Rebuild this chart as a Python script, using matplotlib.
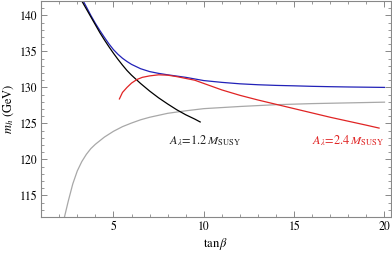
import matplotlib
matplotlib.use('Agg')
import matplotlib.pyplot as plt
from matplotlib.ticker import MultipleLocator

plt.rcParams['font.family'] = 'STIXGeneral'
plt.rcParams['mathtext.fontset'] = 'stix'

# black curve: A_lambda = 1.2 M_SUSY
black_x = [3.25, 3.5, 3.75, 4.0, 4.25, 4.5, 4.75, 5.0, 5.25, 5.5, 5.75, 6.0, 6.5, 7.0, 7.5, 8.0, 8.5, 9.0, 9.5, 9.8]
black_y = [142.0, 140.9, 139.8, 138.7, 137.6, 136.6, 135.65, 134.75, 133.9, 133.1, 132.35, 131.7, 130.55, 129.5, 128.55, 127.7, 126.9, 126.2, 125.6, 125.2]

# blue curve
blue_x = [3.33, 3.5, 3.75, 4.0, 4.25, 4.5, 4.75, 5.0, 5.25, 5.5, 5.75, 6.0, 6.5, 7.0, 7.5, 8.0, 9.0, 10.0, 11.0, 12.0, 13.0, 14.0, 15.0, 16.0, 17.0, 18.0, 19.0, 20.0]
blue_y = [142.0, 141.2, 140.0, 138.9, 137.9, 136.95, 136.05, 135.25, 134.6, 134.05, 133.6, 133.2, 132.6, 132.2, 131.95, 131.75, 131.4, 130.95, 130.7, 130.5, 130.37, 130.28, 130.22, 130.15, 130.1, 130.06, 130.03, 130.0]

# red curve: A_lambda = 2.4 M_SUSY
red_x = [5.33, 5.5, 5.75, 6.0, 6.3, 6.6, 7.0, 7.5, 8.0, 8.5, 9.0, 9.5, 10.0, 11.0, 12.0, 13.0, 14.0, 15.0, 16.0, 17.0, 18.0, 19.0, 19.7]
red_y = [128.4, 129.3, 130.0, 130.6, 131.1, 131.4, 131.6, 131.75, 131.7, 131.5, 131.25, 131.0, 130.55, 129.65, 128.9, 128.25, 127.65, 127.05, 126.45, 125.85, 125.3, 124.75, 124.35]

# gray curve
gray_x = [2.29, 2.5, 2.75, 3.0, 3.25, 3.5, 3.75, 4.0, 4.5, 5.0, 5.5, 6.0, 6.5, 7.0, 8.0, 9.0, 10.0, 12.0, 14.0, 16.0, 18.0, 20.0]
gray_y = [112.0, 114.2, 116.6, 118.4, 119.7, 120.7, 121.5, 122.1, 123.1, 123.9, 124.55, 125.05, 125.5, 125.85, 126.4, 126.75, 127.05, 127.35, 127.6, 127.75, 127.85, 127.95]

fig = plt.figure(figsize=(3.92, 2.58), dpi=100)
ax = fig.add_axes([0.105, 0.159, 0.892, 0.837])

ax.plot(gray_x, gray_y, color='#a8a8a8', lw=0.9)
ax.plot(blue_x, blue_y, color='#2222b8', lw=0.9)
ax.plot(black_x, black_y, color='black', lw=0.9)
ax.plot(red_x, red_y, color='#e02424', lw=0.9)

ax.text(10.07, 122.6, r'$A_\lambda\!=\!1.2\,M_{\mathrm{SUSY}}$', fontsize=8.8, ha='center', va='center', color='#222222')
ax.text(18.0, 122.6, r'$A_\lambda\!=\!2.4\,M_{\mathrm{SUSY}}$', fontsize=8.8, ha='center', va='center', color='#e02424')

ax.set_xlim(1, 20.35)
ax.set_ylim(112, 142)
ax.xaxis.set_major_locator(MultipleLocator(5))
ax.xaxis.set_minor_locator(MultipleLocator(1))
ax.yaxis.set_major_locator(MultipleLocator(5))
ax.yaxis.set_minor_locator(MultipleLocator(1))
ax.tick_params(which='both', direction='in', top=True, right=True, color='#888888', labelsize=8.5, pad=3)
ax.tick_params(which='major', length=4, width=0.7)
ax.tick_params(which='minor', length=2, width=0.6)
for s in ax.spines.values():
    s.set_color('#888888')
    s.set_linewidth(0.8)

ax.set_xlabel(r'$\tan\beta$', fontsize=9, labelpad=2)
ax.set_ylabel(r'$m_h$ (GeV)', fontsize=9, labelpad=2)

fig.savefig('out.png', dpi=100)
